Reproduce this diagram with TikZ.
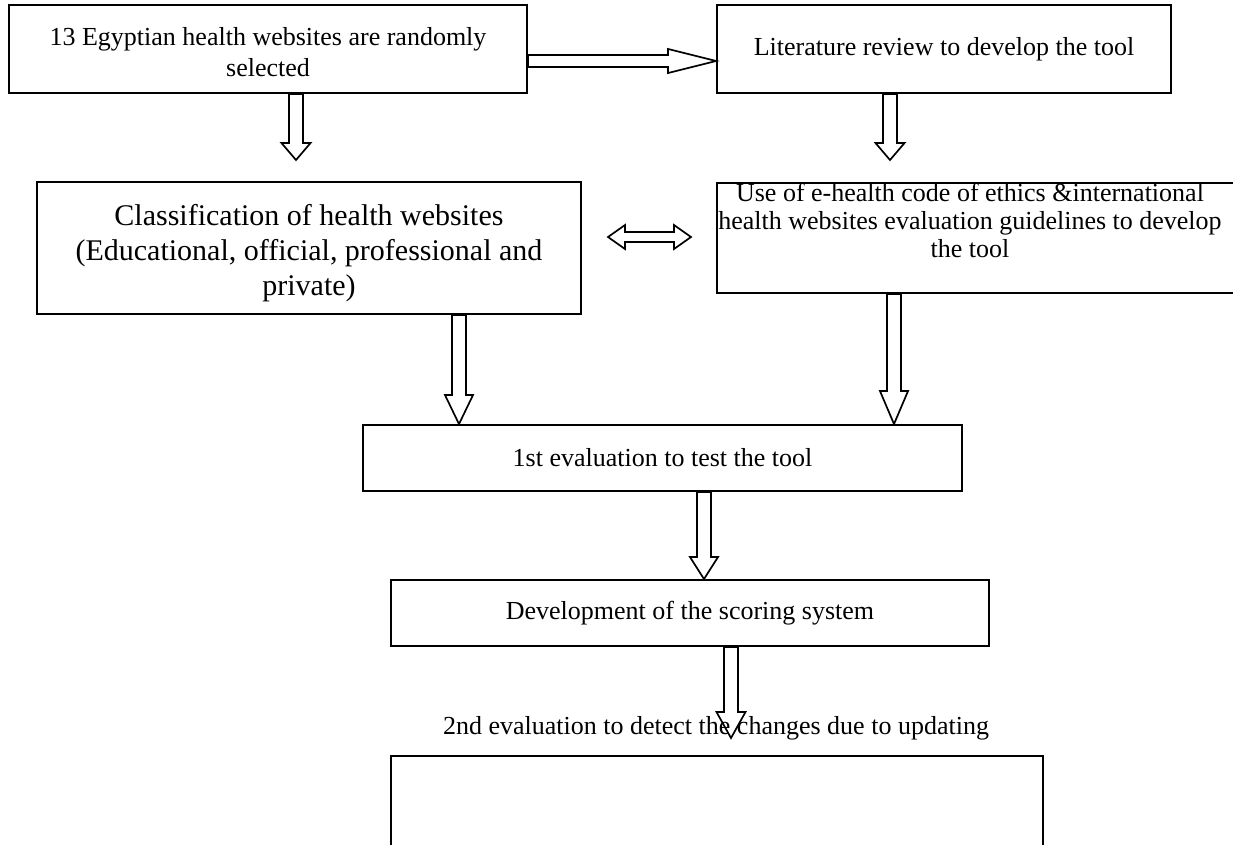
\documentclass[tikz,border=0pt]{standalone}
\usepackage{fontspec}
\setmainfont{Liberation Serif}
\usetikzlibrary{calc}
\tikzset{
  box/.style={draw, line width=1.9pt, inner sep=0pt, align=center, font=\fontsize{26}{28}\selectfont},
  plain/.style={inner sep=0pt, align=center, font=\fontsize{26}{28}\selectfont},
  barrow/.style={draw, line width=1.7pt, line join=miter},
  blk/.style n args={3}{to path={let \p1=(\tikztostart), \p2=(\tikztotarget), \p3=($(\p2)!#3!(\p1)$) in
     ($(\p1)!#1!90:(\p2)$) -- ($(\p3)!#1!90:(\p2)$) -- ($(\p3)!#2!90:(\p2)$) -- (\p2)
     -- ($(\p3)!#2!-90:(\p2)$) -- ($(\p3)!#1!-90:(\p2)$) -- ($(\p1)!#1!-90:(\p2)$) -- cycle}},
  blktwo/.style n args={3}{to path={let \p1=(\tikztostart), \p2=(\tikztotarget), \p3=($(\p1)!#3!(\p2)$), \p4=($(\p2)!#3!(\p1)$) in
     (\p1) -- ($(\p3)!#2!90:(\p2)$) -- ($(\p3)!#1!90:(\p2)$) -- ($(\p4)!#1!90:(\p2)$) -- ($(\p4)!#2!90:(\p2)$) -- (\p2)
     -- ($(\p4)!#2!-90:(\p2)$) -- ($(\p4)!#1!-90:(\p2)$) -- ($(\p3)!#1!-90:(\p2)$) -- ($(\p3)!#2!-90:(\p2)$) -- cycle}}
}
\begin{document}
\begin{tikzpicture}[x=1pt,y=-1pt]
\useasboundingbox (0,0) rectangle (1233,844);
% boxes
\node[box, minimum width=518pt, minimum height=88pt] (A) at (268,49) {};
\node[plain, font=\fontsize{26}{31}\selectfont] (At) at (268,52) {13 Egyptian health websites are randomly\\selected};
\node[box, minimum width=454pt, minimum height=88pt] (L) at (944,49) {Literature review to develop the tool};
\node[box, minimum width=544pt, minimum height=132pt] (C) at (309,248) {};
\node[plain, font=\fontsize{30}{35}\selectfont] (Ct) at (309,253) {Classification of health websites\\(Educational, official, professional and\\private)};
\node[box, minimum width=528pt, minimum height=110pt] (R) at (981,238) {};
\node[plain] (Rt) at (970,220) {Use of e-health code of ethics \&international\\health websites evaluation guidelines to develop\\the tool};
\node[box, minimum width=599pt, minimum height=66pt] (E1) at (662.5,458) {1st evaluation to test the tool};
\node[box, minimum width=598pt, minimum height=66pt] (D) at (690,613) {Development of the scoring system};
\node[plain] (T) at (716,728) {2nd evaluation to detect the changes due to updating};
\node[box, minimum width=652pt, minimum height=114pt] (Z) at (717,813) {};
% helper coordinates
\coordinate (a1) at (296,160);
\coordinate (l1) at (890,160);
\coordinate (dl) at (608,237);
\coordinate (dr) at (691,237);
\coordinate (c1) at (459,0);
\coordinate (r1) at (894,0);
\coordinate (e1) at (704,0);
\coordinate (d1) at (731,738);
% arrows
\draw[barrow] (A.south -| a1) to[blk={7pt}{14.5pt}{17pt}] (a1);
\draw[barrow] ($(A.east)+(0,12)$) to[blk={6pt}{12pt}{48pt}] ($(L.west)+(0,12)$);
\draw[barrow] (L.south -| l1) to[blk={7pt}{14.5pt}{17pt}] (l1);
\draw[barrow] (dl) to[blktwo={5pt}{12pt}{17pt}] (dr);
\draw[barrow] (C.south -| c1) to[blk={7pt}{14pt}{29pt}] (E1.north -| c1);
\draw[barrow] (R.south -| r1) to[blk={7pt}{14pt}{33pt}] (E1.north -| r1);
\draw[barrow] (E1.south -| e1) to[blk={7pt}{14pt}{22pt}] (D.north -| e1);
\draw[barrow] (D.south -| d1) to[blk={7pt}{14.5pt}{26pt}] (d1);
\end{tikzpicture}
\end{document}
